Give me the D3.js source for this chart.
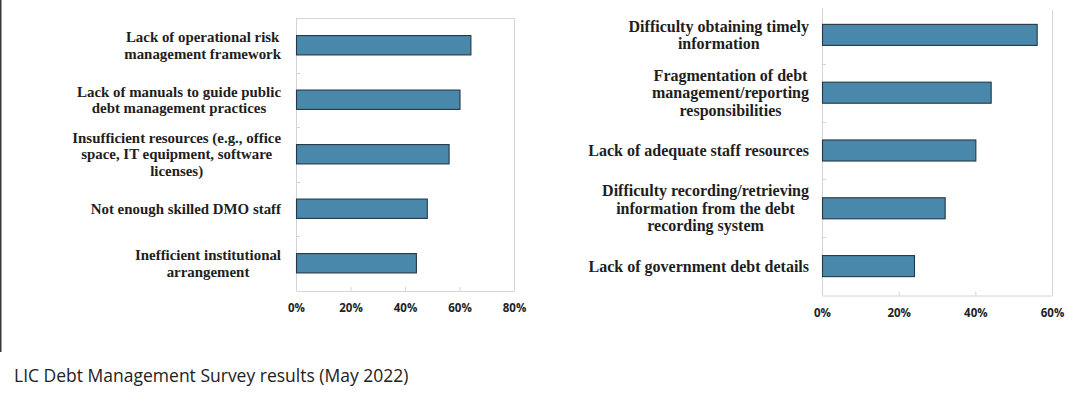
<!DOCTYPE html>
<html>
<head>
<meta charset="utf-8">
<script src="https://cdn.jsdelivr.net/npm/d3@7"></script>
<style>
  html, body { margin: 0; padding: 0; background: #ffffff; }
  svg { display: block; }
</style>
</head>
<body>
<svg id="chart" width="1089" height="394"></svg>
<script>
// ---- data ----
const leftCategories = [
  "Lack of operational risk\nmanagement framework",
  "Lack of manuals to guide public\ndebt management practices",
  "Insufficient resources (e.g., office\nspace, IT equipment, software\nlicenses)",
  "Not enough skilled DMO staff",
  "Inefficient institutional\narrangement"
];
const leftValues = [64, 60, 56, 48, 44];
const leftTicks = [0, 20, 40, 60, 80];

const rightCategories = [
  "Difficulty obtaining timely\ninformation",
  "Fragmentation of debt\nmanagement/reporting\nresponsibilities",
  "Lack of adequate staff resources",
  "Difficulty recording/retrieving\ninformation from the debt\nrecording system",
  "Lack of government debt details"
];
const rightValues = [56, 44, 40, 32, 24];
const rightTicks = [0, 20, 40, 60];

const captionText = "LIC Debt Management Survey results (May 2022)";

// ---- drawing ----
const svg = d3.select("#chart");
const BAR_FILL = "#4a88ab";
const BAR_STROKE = "#243845";
const FRAME = "#d4d4d4";
const LABEL_FONT = "'Liberation Serif', 'Times New Roman', serif";
const TICK_FONT = "'Open Sans', 'Liberation Sans', sans-serif";

// left border line
svg.append("line").attr("x1", 0.75).attr("x2", 0.75).attr("y1", 0).attr("y2", 352)
  .attr("stroke", "#3a3a3a").attr("stroke-width", 1.5);

function drawPanel(cfg) {
  const g = svg.append("g");
  const x = d3.scaleLinear().domain([cfg.ticks[0], cfg.ticks[cfg.ticks.length - 1]])
    .range([cfg.x0, cfg.x1]);
  const y = d3.scaleBand().domain(cfg.categories).range([cfg.y0, cfg.y1])
    .paddingInner(cfg.pad).paddingOuter(cfg.pad / 2);

  // frame
  if (cfg.topLine) {
    g.append("line").attr("x1", cfg.x0).attr("x2", cfg.x1).attr("y1", cfg.y0 + 0.5).attr("y2", cfg.y0 + 0.5)
      .attr("stroke", FRAME);
  }
  g.append("line").attr("x1", cfg.x1 + 0.5).attr("x2", cfg.x1 + 0.5).attr("y1", cfg.rightTop).attr("y2", cfg.y1)
    .attr("stroke", FRAME);

  // bottom axis
  const xAxis = d3.axisBottom(x).tickValues(cfg.ticks).tickFormat(d => d + "%")
    .tickSizeInner(-4).tickSizeOuter(0).tickPadding(13);
  const xa = g.append("g").attr("transform", `translate(0,${cfg.y1 + 0.5})`).call(xAxis);
  xa.select(".domain").attr("stroke", FRAME);
  xa.selectAll(".tick line").attr("stroke", FRAME);
  xa.selectAll(".tick text").attr("font-family", TICK_FONT).attr("font-weight", "bold")
    .attr("font-size", cfg.tickSize).attr("fill", "#222");

  // left axis (category separators)
  const step = y.step();
  const seps = d3.range(1, cfg.categories.length).map(i => cfg.y0 + i * step);
  g.append("line").attr("x1", cfg.x0 + 0.5).attr("x2", cfg.x0 + 0.5).attr("y1", cfg.leftTop).attr("y2", cfg.y1)
    .attr("stroke", FRAME);
  g.selectAll(".sep").data(seps).join("line")
    .attr("x1", cfg.x0).attr("x2", cfg.x0 + 4)
    .attr("y1", d => Math.round(d) + 0.5).attr("y2", d => Math.round(d) + 0.5)
    .attr("stroke", FRAME);

  // bars
  g.selectAll(".bar").data(cfg.values).join("rect")
    .attr("x", x(0) + 0.5)
    .attr("y", (d, i) => y(cfg.categories[i]))
    .attr("width", d => x(d) - x(0))
    .attr("height", y.bandwidth())
    .attr("fill", BAR_FILL).attr("stroke", BAR_STROKE).attr("stroke-width", 1.1);

  // category labels (centered block, right edge aligned)
  cfg.categories.forEach(cat => {
    const lines = cat.split("\n");
    const t = g.append("text")
      .attr("font-family", LABEL_FONT).attr("font-weight", "bold")
      .attr("font-size", cfg.labelSize).attr("fill", "#1e1e1e")
      .attr("text-anchor", "middle");
    const cy = y(cat) + y.bandwidth() / 2;
    const n = lines.length;
    const spans = lines.map((ln, i) => t.append("tspan").text(ln)
      .attr("y", cy + (i - (n - 1) / 2) * cfg.lineH)
      .attr("dy", "0.35em"));
    const maxW = d3.max(spans, s => s.node().getComputedTextLength());
    spans.forEach(s => s.attr("x", cfg.labelRight - maxW / 2));
  });
}

drawPanel({
  categories: leftCategories, values: leftValues, ticks: leftTicks,
  x0: 296, x1: 514, y0: 18, y1: 290.5, pad: 0.645,
  topLine: true, rightTop: 18, leftTop: 18,
  labelRight: 281, labelSize: 14.9, lineH: 16.5, tickSize: 11.5
});

drawPanel({
  categories: rightCategories, values: rightValues, ticks: rightTicks,
  x0: 822, x1: 1052, y0: 6, y1: 295, pad: 0.636,
  topLine: false, rightTop: 10, leftTop: 8,
  labelRight: 809, labelSize: 16, lineH: 17.5, tickSize: 11.5
});

// caption
svg.append("text").attr("x", 14).attr("y", 382)
  .attr("font-family", "'Open Sans', 'Noto Sans', sans-serif")
  .attr("font-size", 17.5).attr("fill", "#222")
  .text(captionText);
</script>
</body>
</html>
